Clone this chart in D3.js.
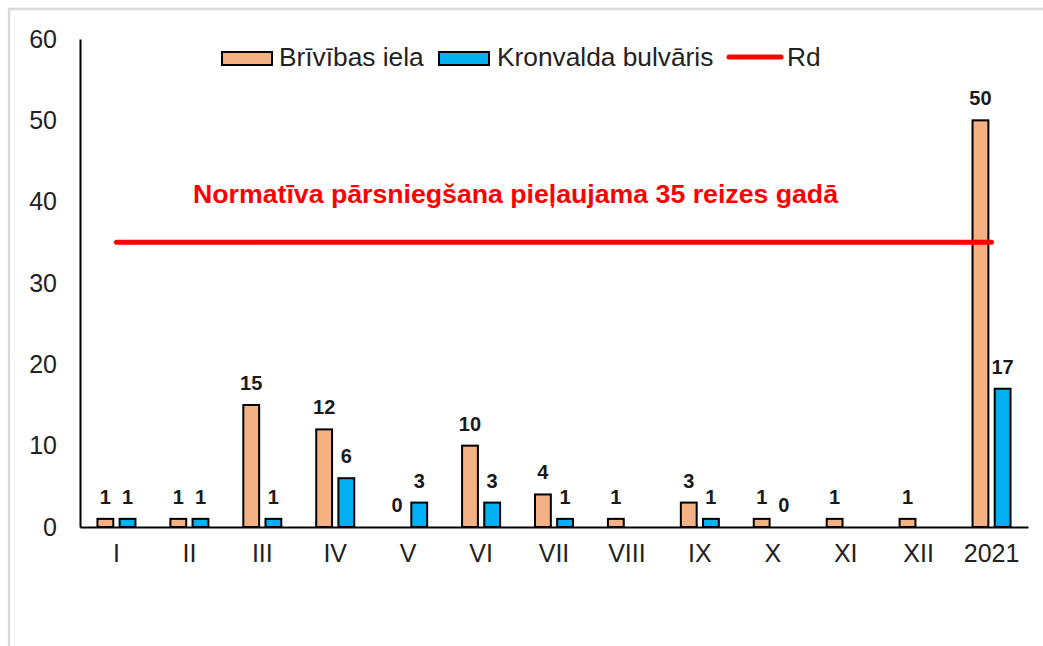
<!DOCTYPE html>
<html><head><meta charset="utf-8">
<script src="https://cdn.jsdelivr.net/npm/d3@7"></script>
<style>body{margin:0;background:#fff}svg{display:block}text{font-family:"Liberation Sans",Arial,sans-serif}</style>
</head><body>
<svg id="c" width="1043" height="646"></svg>
<script>
const categories = ["I","II","III","IV","V","VI","VII","VIII","IX","X","XI","XII","2021"];
const brivibas = [1,1,15,12,0,10,4,1,3,1,1,1,50];
const kronvalda = [1,1,1,6,3,3,1,null,1,0,null,null,17];
const rdValue = 35;
const yTicks = [0,10,20,30,40,50,60];
const seriesNames = ["Brīvības iela","Kronvalda bulvāris","Rd"];
const annotation = "Normatīva pārsniegšana pieļaujama 35 reizes gadā";

const colors = {b:"#F4B183", k:"#00B0F0", rd:"#FF0000"};
const svg = d3.select("#c");
svg.append("rect").attr("x",9).attr("y",9).attr("width",1100).attr("height",700)
  .attr("fill","#fff").attr("stroke","#d9d9d9").attr("stroke-width",2.5);

const plotL=80, plotR=1028, plotT=39, plotB=527;
const x0 = d3.scaleBand().domain(categories).range([plotL,plotR]);
const y = d3.scaleLinear().domain([0,60]).range([plotB,plotT]);
const half = x0.bandwidth()/2;
const x1 = d3.scaleBand().domain(["b","k"]).range([half-20.5, half+20.5]).paddingInner(0.15);

const data = [];
categories.forEach((c,i)=>{
  data.push({c, s:"b", v:brivibas[i]});
  data.push({c, s:"k", v:kronvalda[i]});
});

const g = svg.append("g");
g.selectAll("rect.bar").data(data.filter(d=>d.v!=null && d.v>0)).join("rect")
  .attr("class","bar")
  .attr("x",d=>x0(d.c)+x1(d.s)+1.5)
  .attr("width",x1.bandwidth()-3)
  .attr("y",d=>y(d.v))
  .attr("height",d=>y(0)-y(d.v))
  .attr("fill",d=>colors[d.s]).attr("stroke","#000").attr("stroke-width",2);

g.selectAll("text.lbl").data(data.filter(d=>d.v!=null)).join("text")
  .attr("class","lbl")
  .attr("x",d=>x0(d.c)+x1(d.s)+x1.bandwidth()/2)
  .attr("y",d=>y(d.v)-15)
  .attr("text-anchor","middle").attr("font-size",20).attr("font-weight","bold").attr("fill","#1a1a1a")
  .text(d=>d.v);

// axes
const yAxis = d3.axisLeft(y).tickValues(yTicks).tickSize(0).tickPadding(23);
const ya = svg.append("g").attr("transform",`translate(${plotL},0)`).call(yAxis);
ya.select(".domain").attr("stroke","#000").attr("stroke-width",2);
ya.selectAll("text").attr("font-size",25).attr("fill","#222").attr("font-family","Liberation Sans, Arial, sans-serif");

const xAxis = d3.axisBottom(x0).tickSize(0).tickPadding(17);
const xa = svg.append("g").attr("transform",`translate(0,${plotB})`).call(xAxis);
xa.select(".domain").attr("stroke","#000").attr("stroke-width",2);
xa.selectAll("text").attr("font-size",25).attr("fill","#222").attr("font-family","Liberation Sans, Arial, sans-serif");

// Rd line
svg.append("line")
  .attr("x1",x0(categories[0])+half).attr("x2",x0(categories[categories.length-1])+half)
  .attr("y1",y(rdValue)).attr("y2",y(rdValue))
  .attr("stroke",colors.rd).attr("stroke-width",5).attr("stroke-linecap","round");

svg.append("text").attr("x",193).attr("y",203)
  .attr("font-size",25).attr("font-weight","bold").attr("fill",colors.rd)
  .attr("textLength",645).attr("lengthAdjust","spacingAndGlyphs")
  .text(annotation);

// legend
const lg = svg.append("g");
lg.append("rect").attr("x",222).attr("y",52).attr("width",50).attr("height",13)
  .attr("fill",colors.b).attr("stroke","#000").attr("stroke-width",2);
lg.append("text").attr("x",279).attr("y",66).attr("font-size",26.3).attr("fill","#222").text(seriesNames[0]);
lg.append("rect").attr("x",439).attr("y",52).attr("width",50).attr("height",13)
  .attr("fill",colors.k).attr("stroke","#000").attr("stroke-width",2);
lg.append("text").attr("x",497).attr("y",66).attr("font-size",26.3).attr("fill","#222").text(seriesNames[1]);
lg.append("line").attr("x1",729).attr("x2",781).attr("y1",57).attr("y2",57)
  .attr("stroke",colors.rd).attr("stroke-width",5).attr("stroke-linecap","round");
lg.append("text").attr("x",787).attr("y",66).attr("font-size",26.3).attr("fill","#222").text(seriesNames[2]);
</script>
</body></html>
